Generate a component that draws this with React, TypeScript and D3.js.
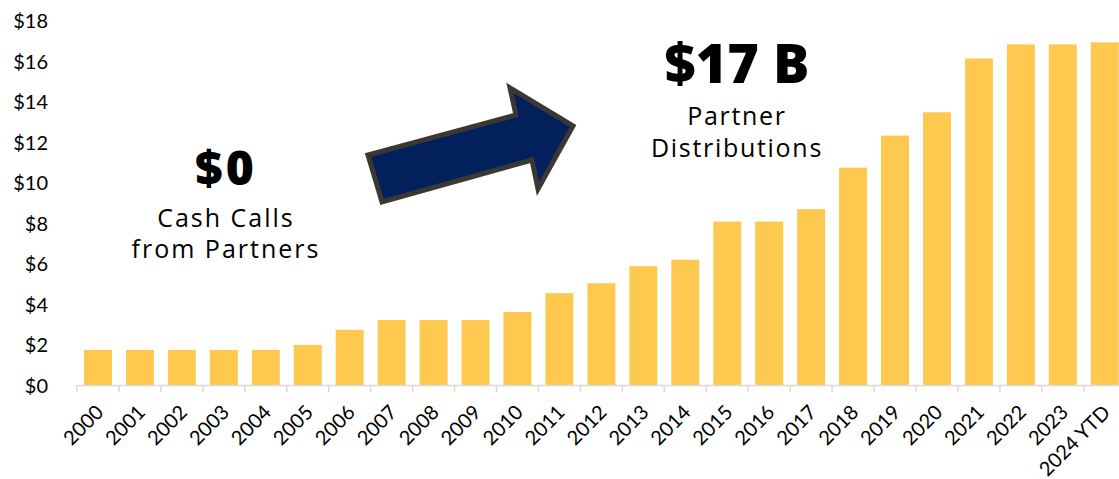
import React from "react";
import * as d3 from "d3";

const categories = ["2000","2001","2002","2003","2004","2005","2006","2007","2008","2009","2010","2011","2012","2013","2014","2015","2016","2017","2018","2019","2020","2021","2022","2023","2024 YTD"];
const distributions = [1.73,1.73,1.73,1.73,1.73,1.98,2.72,3.2,3.2,3.2,3.6,4.53,5.02,5.86,6.18,8.06,8.06,8.67,10.72,12.3,13.45,16.1,16.8,16.8,16.9];
const yTicks = [0,2,4,6,8,10,12,14,16,18];

const W = 1119, H = 479;
const X0 = 77, STEP = 41.95;
const Y0 = 385, Y1 = 20;

export default function App() {
  const x = d3.scaleBand<string>().domain(categories).range([X0, X0 + STEP * categories.length]).paddingInner(1 / 3).paddingOuter(1 / 6);
  const y = d3.scaleLinear().domain([0, 18]).range([Y0, Y1]);
  const step = x.step();
  const bounds = d3.range(categories.length + 1).map(i => X0 + i * step);
  const arrow = [[368,155],[382,202],[532,160],[538,189],[573,126],[510,88],[516,115]];
  const labelFont = "Lato, 'Open Sans', sans-serif";
  const titleFont = "'Open Sans', 'Noto Sans', sans-serif";
  return (
    <svg width={W} height={H} style={{ position: "absolute", left: 0, top: 0, background: "#fff" }}>
      {categories.map((c, i) => (
        <rect key={c} x={x(c)} y={y(distributions[i])} width={x.bandwidth()} height={Y0 - y(distributions[i])} fill="#FFC84F" />
      ))}
      <line x1={X0} x2={W} y1={Y0 + 0.5} y2={Y0 + 0.5} stroke="#d9d9d9" strokeWidth={1.5} />
      {bounds.map((b, i) => (
        <line key={i} x1={b} x2={b} y1={Y0} y2={Y0 + 7} stroke="#d9d9d9" strokeWidth={1.5} />
      ))}
      {yTicks.map(t => (
        <text key={t} x={48} y={y(t)} textAnchor="end" dominantBaseline="central" fontFamily={labelFont} fontSize={20} fill="#000">
          {"$" + t}
        </text>
      ))}
      {categories.map(c => {
        const cx = (x(c) as number) + x.bandwidth() / 2 + 1;
        const cy = 408;
        return (
          <text key={c} x={cx} y={cy} transform={`rotate(-45 ${cx} ${cy})`} textAnchor="end" dominantBaseline="central" fontFamily={labelFont} fontSize={20} fill="#000">
            {c}
          </text>
        );
      })}
      <polygon points={arrow.map(p => p.join(",")).join(" ")} fill="#02205C" stroke="#3B3834" strokeWidth={5} strokeLinejoin="miter" />
      <text x={226} y={185} textAnchor="middle" fontFamily={titleFont} fontWeight={800} fontSize={48} letterSpacing={3}>$0</text>
      <text x={226} y={227} textAnchor="middle" fontFamily={titleFont} fontWeight={500} fontSize={25} letterSpacing={2}>Cash Calls</text>
      <text x={226} y={258} textAnchor="middle" fontFamily={titleFont} fontWeight={500} fontSize={25} letterSpacing={2}>from Partners</text>
      <text x={737} y={83} textAnchor="middle" fontFamily={titleFont} fontWeight={800} fontSize={54}>$17 B</text>
      <text x={737} y={125} textAnchor="middle" fontFamily={titleFont} fontWeight={500} fontSize={25} letterSpacing={1.7}>Partner</text>
      <text x={737} y={157} textAnchor="middle" fontFamily={titleFont} fontWeight={500} fontSize={25} letterSpacing={1.7}>Distributions</text>
    </svg>
  );
}
